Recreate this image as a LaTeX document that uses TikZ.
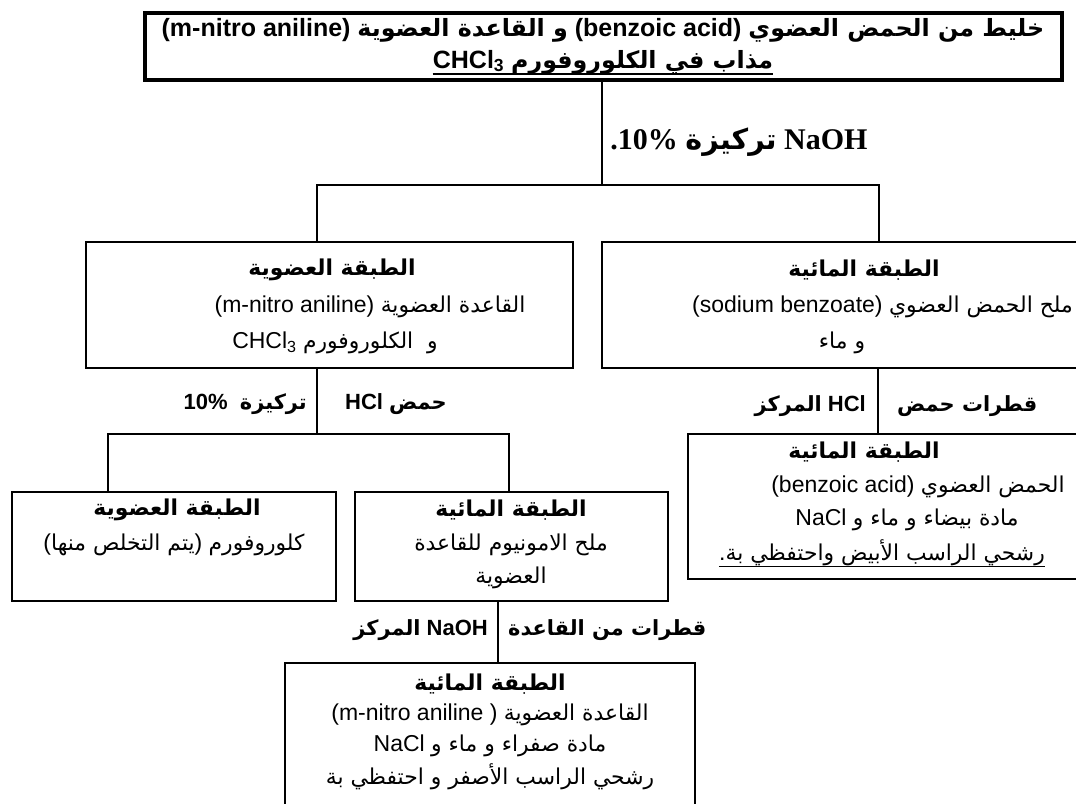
\documentclass[tikz,border=0pt]{standalone}
\usepackage{fontspec}
\setmainfont{Liberation Sans}
\newfontfamily\arfont[Script=Arabic,Scale=0.95]{DejaVu Sans}
\newfontfamily\serifb{Liberation Serif}
\TeXXeTstate=1
\newcommand\AR[1]{{\arfont\beginR #1\endR}}
\begin{document}
\begin{tikzpicture}[x=1pt,y=-1pt,
  box/.style={draw,line width=2.6pt,inner sep=0pt,outer sep=0pt},
  conn/.style={line width=2.2pt},
  txt/.style={inner sep=0pt,font=\fontsize{23}{27}\selectfont},
  ttl/.style={inner sep=0pt,font=\fontsize{23}{27}\selectfont\bfseries},
  toptxt/.style={inner sep=0pt,font=\fontsize{25}{29}\selectfont\bfseries},
  lbl/.style={inner sep=0pt,font=\fontsize{22}{26}\selectfont\bfseries}]
\useasboundingbox (0,0) rectangle (1076,803);
\clip (0,0) rectangle (1076,803);
% boxes
\node[box,line width=3.4pt,minimum width=917pt,minimum height=67pt] (top) at (603.5,46.5) {};
\node[box,minimum width=487pt,minimum height=126pt] (lm) at (329.5,305) {};
\node[box,minimum width=498pt,minimum height=126pt] (rm) at (851,305) {};
\node[box,minimum width=412pt,minimum height=145pt] (br) at (894,506.5) {};
\node[box,minimum width=324pt,minimum height=109pt] (bl1) at (174,546.5) {};
\node[box,minimum width=313pt,minimum height=109pt] (bl2) at (511.5,546.5) {};
\node[box,minimum width=410pt,minimum height=167pt] (bb) at (490,746.5) {};
% junctions
\coordinate (j1) at (602,185);
\coordinate (j1l) at (317,185);
\coordinate (j1r) at (879,185);
\coordinate (j2) at (317,434);
\coordinate (j2l) at (108,434);
\coordinate (j2r) at (509,434);
\coordinate (c3) at (878,0);
\coordinate (c4) at (498,0);
% connectors
\draw[conn] (j1 |- top.south) -- (j1);
\draw[conn] (j1l |- lm.north) -- (j1l) -- (j1r) -- (j1r |- rm.north);
\draw[conn] (j2 |- lm.south) -- (j2);
\draw[conn] (j2l |- bl1.north) -- (j2l) -- (j2r) -- (j2r |- bl2.north);
\draw[conn] (c3 |- rm.south) -- (c3 |- br.north);
\draw[conn] (c4 |- bl2.south) -- (c4 |- bb.north);
% top box text
\node[toptxt] (t1) at (603,30) {(m-nitro aniline) \AR{و القاعدة العضوية} (benzoic acid) \AR{خليط من الحمض العضوي}};
\node[toptxt] (t2) at (603,62) {CHCl\textsubscript{3} \AR{مذاب في الكلوروفورم}};
\draw[line width=1.6pt] (t2.south west) -- (t2.south east);
% NaOH label
\node[inner sep=0pt,font=\fontsize{30}{34}\selectfont\bfseries\serifb] (l1) at (739,142) {.10\% \AR{تركيزة} NaOH};
% left middle box
\node[ttl] (lm1) at (332,270) {\AR{الطبقة العضوية}};
\node[txt] (lm2) at (370,307) {(m-nitro aniline) \AR{القاعدة العضوية}};
\node[txt] (lm3) at (335,343) {CHCl\textsubscript{3} \AR{و\ \ الكلوروفورم}};
% right middle box
\node[ttl] (rm1) at (864,270) {\AR{الطبقة المائية}};
\node[txt,anchor=east] (rm2) at (1073,307) {(sodium benzoate) \AR{ملح الحمض العضوي}};
\node[txt] (rm3) at (842,343) {\AR{و ماء}};
% HCl labels
\node[lbl,anchor=east] (l2a) at (307,404) {10\%\ \ \AR{تركيزة}};
\node[lbl,anchor=west] (l2b) at (345,404) {HCl \AR{حمض}};
\node[lbl,anchor=east] (l3a) at (866,406) {\AR{المركز} HCl};
\node[lbl,anchor=west] (l3b) at (897,406) {\AR{قطرات حمض}};
% bottom right box
\node[ttl] (br1) at (864,452) {\AR{الطبقة المائية}};
\node[txt] (br2) at (918,487) {(benzoic acid) \AR{الحمض العضوي}};
\node[txt] (br3) at (907,520) {NaCl \AR{مادة بيضاء و ماء و}};
\node[txt] (br4) at (882,553) {.\AR{رشحي الراسب الأبيض واحتفظي بة}};
\draw[line width=1.6pt] (br4.south west) -- (br4.south east);
% bottom left boxes
\node[ttl] (b11) at (177,510) {\AR{الطبقة العضوية}};
\node[txt] (b12) at (174,545) {(\AR{يتم التخلص منها}) \AR{كلوروفورم}};
\node[ttl] (b21) at (511,510) {\AR{الطبقة المائية}};
\node[txt] (b22) at (511,545) {\AR{ملح الامونيوم للقاعدة}};
\node[txt] (b23) at (511,578) {\AR{العضوية}};
% NaOH drops label
\node[lbl,anchor=east] (l4a) at (488,630) {\AR{المركز} NaOH};
\node[lbl,anchor=west] (l4b) at (508,630) {\AR{قطرات من القاعدة}};
% bottom box
\node[ttl] (bb1) at (490,684) {\AR{الطبقة المائية}};
\node[txt] (bb2) at (490,715) {(m-nitro aniline ) \AR{القاعدة العضوية}};
\node[txt] (bb3) at (490,746) {NaCl \AR{مادة صفراء و ماء و}};
\node[txt] (bb4) at (490,777) {\AR{رشحي الراسب الأصفر و احتفظي بة}};
\end{tikzpicture}
\end{document}
